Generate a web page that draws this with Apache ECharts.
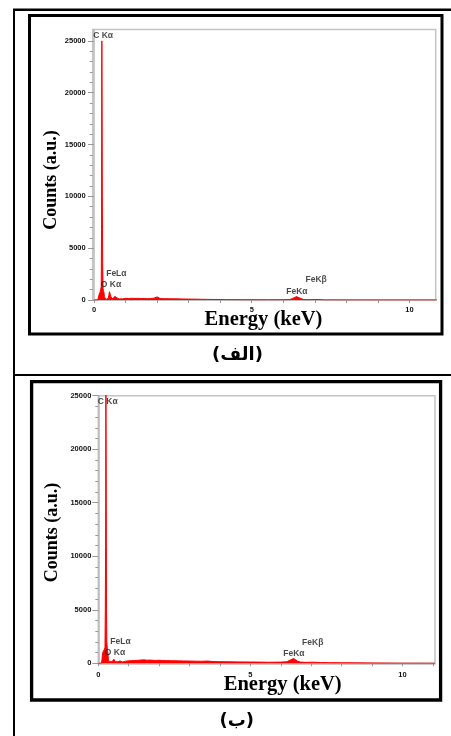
<!DOCTYPE html>
<html><head><meta charset="utf-8">
<script src="https://cdn.jsdelivr.net/npm/echarts@6/dist/echarts.min.js"></script>
<style>html,body{margin:0;padding:0;background:#fff;}#c{width:451px;height:736px;}</style>
</head><body><div id="c"></div>
<script>
// ---- data ----
const xLabelTicks = [0, 5, 10];
const xMinorTicks = [0, 1, 2, 3, 4, 5, 6, 7, 8, 9, 10, 11];
const yLabelTicks = [0, 5000, 10000, 15000, 20000, 25000];
const yMinorTicks = [0, 1000, 2000, 3000, 4000, 5000, 6000, 7000, 8000, 9000, 10000, 11000, 12000,
  13000, 14000, 15000, 16000, 17000, 18000, 19000, 20000, 21000, 22000, 23000, 24000, 25000];

// spectrum (الف): [energy keV, counts]
const spectrumA = [[0.00,0],[0.12,0],[0.14,150],[0.16,500],[0.18,650],[0.19,400],[0.20,800],[0.21,1000],
  [0.22,900],[0.23,1300],[0.24,6800],[0.245,16800],[0.25,25000],[0.255,21500],[0.265,10100],[0.275,3500],
  [0.29,1100],[0.30,900],[0.31,1000],[0.32,700],[0.33,300],[0.35,120],[0.38,60],[0.42,80],[0.45,150],
  [0.47,400],[0.49,800],[0.50,950],[0.52,700],[0.54,300],[0.56,120],[0.60,100],[0.63,150],[0.66,350],
  [0.69,520],[0.71,420],[0.73,200],[0.76,120],[0.80,100],[0.85,130],[0.90,110],[1.0,160],[1.1,140],
  [1.2,170],[1.3,150],[1.4,160],[1.5,140],[1.6,150],[1.7,130],[1.8,140],[1.9,180],[1.95,260],[2.0,300],
  [2.05,250],[2.1,150],[2.2,130],[2.4,120],[2.6,110],[2.8,100],[3.0,90],[3.2,80],[3.4,70],[3.6,60],
  [3.8,50],[4.0,40],[4.2,35],[4.5,25],[5.0,20],[5.5,15],[6.0,20],[6.2,40],[6.3,150],[6.36,280],
  [6.42,330],[6.48,280],[6.55,150],[6.65,40],[6.8,20],[7.0,40],[7.06,90],[7.12,40],[7.3,10],[8.0,5],
  [9.0,0],[10.9,0]];

// spectrum (ب)
const spectrumB = [[0.00,0],[0.10,0],[0.12,300],[0.14,900],[0.16,1100],[0.18,1000],[0.20,1300],[0.22,1500],
  [0.23,4800],[0.24,10900],[0.25,26500],[0.255,26500],[0.26,17200],[0.27,5000],[0.28,2000],[0.30,1200],
  [0.32,900],[0.33,400],[0.35,150],[0.40,100],[0.45,150],[0.48,250],[0.51,380],[0.53,330],[0.56,150],
  [0.60,120],[0.64,150],[0.68,230],[0.71,220],[0.74,130],[0.80,120],[0.85,150],[0.9,200],[1.0,230],
  [1.1,250],[1.2,260],[1.3,280],[1.4,300],[1.5,320],[1.6,290],[1.7,300],[1.8,280],[1.9,270],[2.0,290],
  [2.1,260],[2.2,250],[2.4,240],[2.6,230],[2.8,220],[3.0,210],[3.2,200],[3.4,190],[3.6,210],[3.7,180],
  [3.8,160],[4.0,150],[4.3,140],[4.6,130],[5.0,120],[5.3,110],[5.6,100],[6.0,110],[6.2,150],[6.3,280],
  [6.36,400],[6.42,450],[6.48,380],[6.55,200],[6.65,110],[6.8,90],[7.0,100],[7.06,130],[7.12,100],
  [7.3,70],[7.6,60],[8.0,50],[8.5,40],[9.0,30],[9.5,20],[10.0,10],[10.5,8],[11.07,5]];

// peak labels: [text, energy, counts]
const peaksA = [['C Kα',0.29,25480],['FeLα',0.71,2510],['O Kα',0.54,1450],['FeKα',6.43,800],['FeKβ',7.04,1930]];
const peaksB = [['C Kα',0.31,24470],['FeLα',0.73,2020],['O Kα',0.55,965],['FeKα',6.43,870],['FeKβ',7.05,1930]];

const xTitle = 'Energy (keV)';
const yTitle = 'Counts (a.u.)';
const captionA = '(الف)';
const captionB = '(ب)';

// ---- chart ----
const chart = echarts.init(document.getElementById('c'), null, {renderer: 'canvas'});
const axisGray = '#b8b8b8';
const xRanges = [[-0.04, 10.83], [0, 11.07]];
const yMax = [26100, 25000];
const grids = [
  {left: 92.7, top: 29.5, width: 343, height: 270.5},
  {left: 98.3, top: 395.7, width: 336.7, height: 267.6}
];
const labelMargins = [6, 8];
const plain = v => String(v);

const xAxes = [], yAxes = [], series = [];
grids.forEach((g, i) => {
  xAxes.push({
    type: 'value', gridIndex: i, min: xRanges[i][0], max: xRanges[i][1],
    axisLine: {show: true, lineStyle: {color: axisGray, width: 1.5}},
    axisTick: {show: true, length: 3, customValues: xMinorTicks.filter(v => v <= xRanges[i][1]),
      lineStyle: {color: '#999', width: 1}},
    axisLabel: {show: true, customValues: xLabelTicks, formatter: plain, margin: labelMargins[i], fontSize: 7.5,
      fontWeight: 'bold', color: '#111', fontFamily: 'Liberation Sans'},
    splitLine: {show: false}
  });
  yAxes.push({
    type: 'value', gridIndex: i, min: 0, max: yMax[i], position: 'left',
    axisLine: {show: true, lineStyle: {color: axisGray, width: 1.5}},
    axisTick: {show: true, length: 6, customValues: yLabelTicks, lineStyle: {color: '#999', width: 1}},
    axisLabel: {show: true, customValues: yLabelTicks, formatter: plain, margin: 7, fontSize: 7.5,
      fontWeight: 'bold', color: '#111', fontFamily: 'Liberation Sans'},
    splitLine: {show: false}
  });
  yAxes.push({
    type: 'value', gridIndex: i, min: 0, max: yMax[i], position: 'left', offset: 0,
    axisLine: {show: false},
    axisTick: {show: true, length: 3, customValues: yMinorTicks, lineStyle: {color: '#999', width: 1}},
    axisLabel: {show: false},
    splitLine: {show: false}
  });
  const spec = i === 0 ? spectrumA : spectrumB;
  const peaks = i === 0 ? peaksA : peaksB;
  series.push({
    type: 'line', xAxisIndex: i, yAxisIndex: i * 2, data: spec,
    symbol: 'none', showSymbol: false, silent: true, clip: true,
    lineStyle: {color: '#ff0000', width: 1},
    areaStyle: {color: '#ff0000', opacity: 1},
    z: 2
  });
  series.push({
    type: 'scatter', xAxisIndex: i, yAxisIndex: i * 2, symbolSize: 0, silent: true,
    data: peaks.map(p => ({name: p[0], value: [p[1], p[2]]})),
    label: {show: true, position: 'inside', formatter: '{b}', fontSize: 8.5, fontWeight: 'bold',
      color: '#1a1a1a', fontFamily: 'Liberation Sans'},
    z: 5
  });
});

function txt(x, y, text, font, rot) {
  return {type: 'text', x: x, y: y, rotation: rot || 0, silent: true, z: 10,
    style: {text: text, font: font, fill: '#000', align: 'center', verticalAlign: 'middle',
      textAlign: 'center', textVerticalAlign: 'middle'}};
}

const graphic = [
  {type: 'rect', silent: true, shape: {x: 13, y: 8.5, width: 438, height: 2.5}, style: {fill: '#000'}},
  {type: 'rect', silent: true, shape: {x: 13, y: 9, width: 2, height: 727}, style: {fill: '#000'}},
  {type: 'rect', silent: true, shape: {x: 13, y: 374, width: 438, height: 2}, style: {fill: '#000'}},
  {type: 'rect', silent: true, shape: {x: 29.5, y: 15.5, width: 412.5, height: 318.5},
    style: {fill: 'none', stroke: '#000', lineWidth: 3}},
  {type: 'rect', silent: true, shape: {x: 31.6, y: 381.7, width: 409, height: 318.3},
    style: {fill: 'none', stroke: '#000', lineWidth: 3.3}},
  txt(51, 180, yTitle, 'bold 18px "Liberation Serif"', Math.PI / 2),
  txt(263.5, 319.5, xTitle, 'bold 20.5px "Liberation Serif"'),
  txt(237.5, 355, captionA, 'bold 18px "DejaVu Sans"'),
  txt(52.5, 532.5, yTitle, 'bold 18px "Liberation Serif"', Math.PI / 2),
  txt(282.7, 685, xTitle, 'bold 20.5px "Liberation Serif"'),
  txt(236.7, 721, captionB, 'bold 18px "DejaVu Sans"')
];

chart.setOption({
  animation: false,
  backgroundColor: '#fff',
  grid: grids.map(g => Object.assign({show: true, borderColor: '#c4c4c4', borderWidth: 1.5,
    backgroundColor: 'transparent', containLabel: false}, g)),
  xAxis: xAxes,
  yAxis: yAxes,
  series: series,
  graphic: graphic
});
</script></body></html>
